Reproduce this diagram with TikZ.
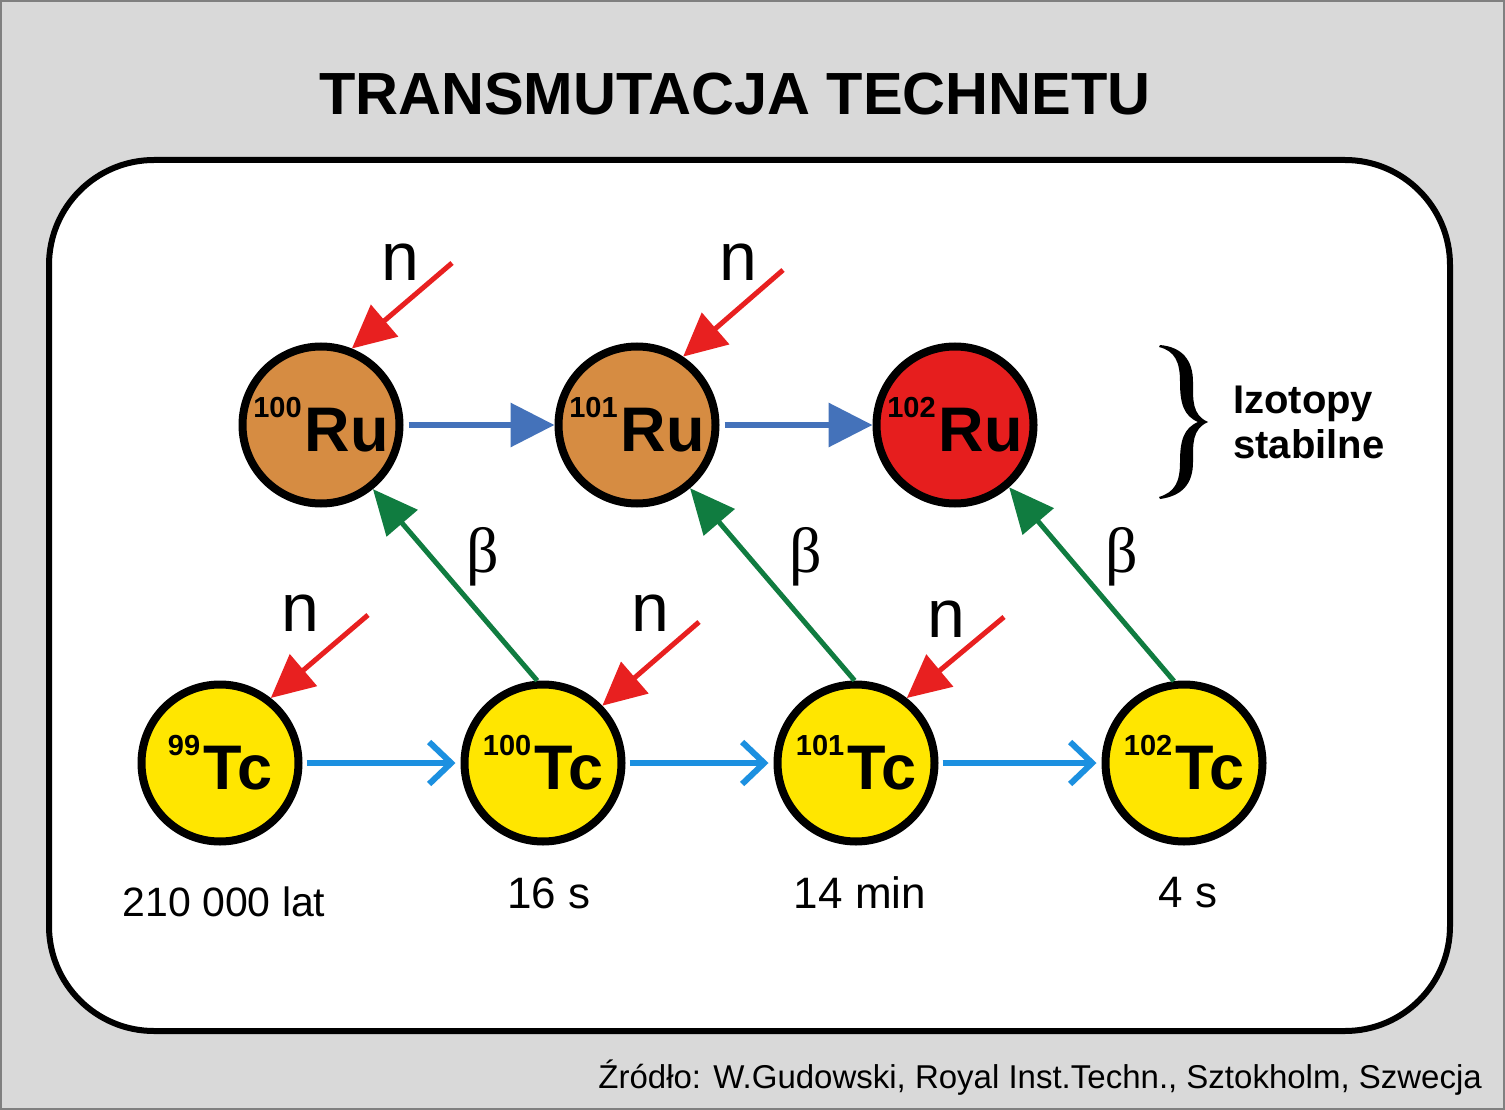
\documentclass[tikz,border=0pt]{standalone}
\usepackage{fontspec}
\setmainfont{Liberation Sans}
\newfontfamily\serifgreek{Liberation Serif}
\usetikzlibrary{arrows.meta}
\definecolor{bggray}{RGB}{217,217,217}
\definecolor{framegray}{RGB}{128,128,128}
\definecolor{ruorange}{RGB}{214,140,66}
\definecolor{rured}{RGB}{230,30,30}
\definecolor{tcyellow}{RGB}{255,230,0}
\definecolor{topblue}{RGB}{68,114,186}
\definecolor{lowblue}{RGB}{28,144,224}
\definecolor{betagreen}{RGB}{16,124,64}
\definecolor{nred}{RGB}{232,32,32}
\newcommand\nuclab[2]{\raisebox{34pt}{\fontsize{29}{29}\selectfont\bfseries #1}\kern3pt{\fontsize{63}{63}\selectfont\bfseries #2}}
\begin{document}
\begin{tikzpicture}[x=1pt,y=-1pt,
  nuc/.style={circle, draw=black, line width=8pt, minimum size=157pt, inner sep=0pt},
  runuc/.style={nuc, fill=ruorange},
  ru2nuc/.style={nuc, fill=rured},
  tcnuc/.style={nuc, fill=tcyellow},
  toparrow/.style={draw=topblue, line width=6.5pt, -{Triangle[length=44pt,width=43pt]}, shorten <=5pt},
  lowarrow/.style={draw=lowblue, line width=6pt, -{Straight Barb[length=22pt,width=42pt]}, shorten <=4pt, shorten >=5pt},
  betaarrow/.style={draw=betagreen, line width=5pt, -{Triangle[length=45pt,width=40pt]}},
  narrow/.style={draw=nred, line width=5pt, -{Triangle[length=43pt,width=41pt]}},
  nlab/.style={font=\fontsize{68}{68}\selectfont, inner sep=0pt},
  betalab/.style={font=\serifgreek\fontsize{64}{64}\selectfont, inner sep=0pt},
  timelab/.style={font=\fontsize{44}{44}\selectfont, inner sep=0pt}
]
\fill[bggray] (0,0) rectangle (1505,1110);
\draw[framegray, line width=2pt] (1,1) rectangle (1504,1109);
\useasboundingbox (0,0) rectangle (1505,1110);

% title
\node[inner sep=0pt] (title) at (735,94) {\fontsize{59.5}{72}\selectfont\bfseries TRANSMUTACJA TECHNETU};

% frame
\draw[fill=white, line width=6pt, rounded corners=105pt] (49,160) rectangle (1450,1031);

% nuclei
\node[runuc] (Ru100) at (321,425) {\nuclab{100}{Ru}};
\node[runuc] (Ru101) at (637,425) {\nuclab{101}{Ru}};
\node[ru2nuc] (Ru102) at (955,425) {\nuclab{102}{Ru}};
\node[tcnuc] (Tc99) at (220,763) {\nuclab{99}{Tc}};
\node[tcnuc] (Tc100) at (543,763) {\nuclab{100}{Tc}};
\node[tcnuc] (Tc101) at (856,763) {\nuclab{101}{Tc}};
\node[tcnuc] (Tc102) at (1184,763) {\nuclab{102}{Tc}};

% capture arrows along the rows
\draw[toparrow] (Ru100.east) -- (Ru101.west);
\draw[toparrow] (Ru101.east) -- (Ru102.west);
\draw[lowarrow] (Tc99.east) -- (Tc100.west);
\draw[lowarrow] (Tc100.east) -- (Tc101.west);
\draw[lowarrow] (Tc101.east) -- (Tc102.west);

% beta decays
\draw[betaarrow] (Tc100.94) -- (Ru100.-51);
\draw[betaarrow] (Tc101.91) -- (Ru101.-50);
\draw[betaarrow] (Tc102.97) -- (Ru102.-49);
\node[betalab] (b1) at (483,557) {β};
\node[betalab] (b2) at (806,557) {β};
\node[betalab] (b3) at (1122,557) {β};

% neutrons
\coordinate (s1) at (452,263);
\coordinate (s2) at (783,270);
\coordinate (s3) at (368,615);
\coordinate (s4) at (699,622);
\coordinate (s5) at (1004,617);
\draw[narrow] (s1) -- (Ru100.68);
\draw[narrow] (s2) -- (Ru101.56);
\draw[narrow] (s3) -- (Tc99.52);
\draw[narrow] (s4) -- (Tc100.44);
\draw[narrow] (s5) -- (Tc101.52);
\node[nlab] (n1) at (400,262) {n};
\node[nlab] (n2) at (738,262) {n};
\node[nlab] (n3) at (300,613) {n};
\node[nlab] (n4) at (650,613) {n};
\node[nlab] (n5) at (946,619) {n};

% half-lives
\node[timelab, font=\fontsize{41}{41}\selectfont] (t1) at (224,902) {210 000 lat};
\node[timelab] (t2) at (549,893) {16 s};
\node[timelab] (t3) at (860,893) {14 min};
\node[timelab] (t4) at (1188,893) {4 s};

% brace and label
\fill[black] (1160,345) .. controls (1182,347) and (1193,360) .. (1193,382)
  .. controls (1193,400) and (1192,415) .. (1208,422)
  .. controls (1192,429) and (1193,444) .. (1193,462)
  .. controls (1193,484) and (1182,496) .. (1160,499)
  -- (1159,497)
  .. controls (1175,492) and (1180,482) .. (1180,462)
  .. controls (1180,440) and (1184,428) .. (1198,422)
  .. controls (1184,416) and (1180,404) .. (1180,382)
  .. controls (1180,362) and (1175,351) .. (1159,347) -- cycle;
\node[anchor=base west, inner sep=0pt, font=\fontsize{40}{40}\selectfont\bfseries] (iz1) at (1233,413) {Izotopy};
\node[anchor=base west, inner sep=0pt, font=\fontsize{40}{40}\selectfont\bfseries] (iz2) at (1233,458) {stabilne};

% source
\node[anchor=base east, inner sep=0pt, font=\fontsize{33}{33}\selectfont] (src) at (1482,1088) {Źródło: W.Gudowski, Royal Inst.Techn., Sztokholm, Szwecja};
\end{tikzpicture}
\end{document}
